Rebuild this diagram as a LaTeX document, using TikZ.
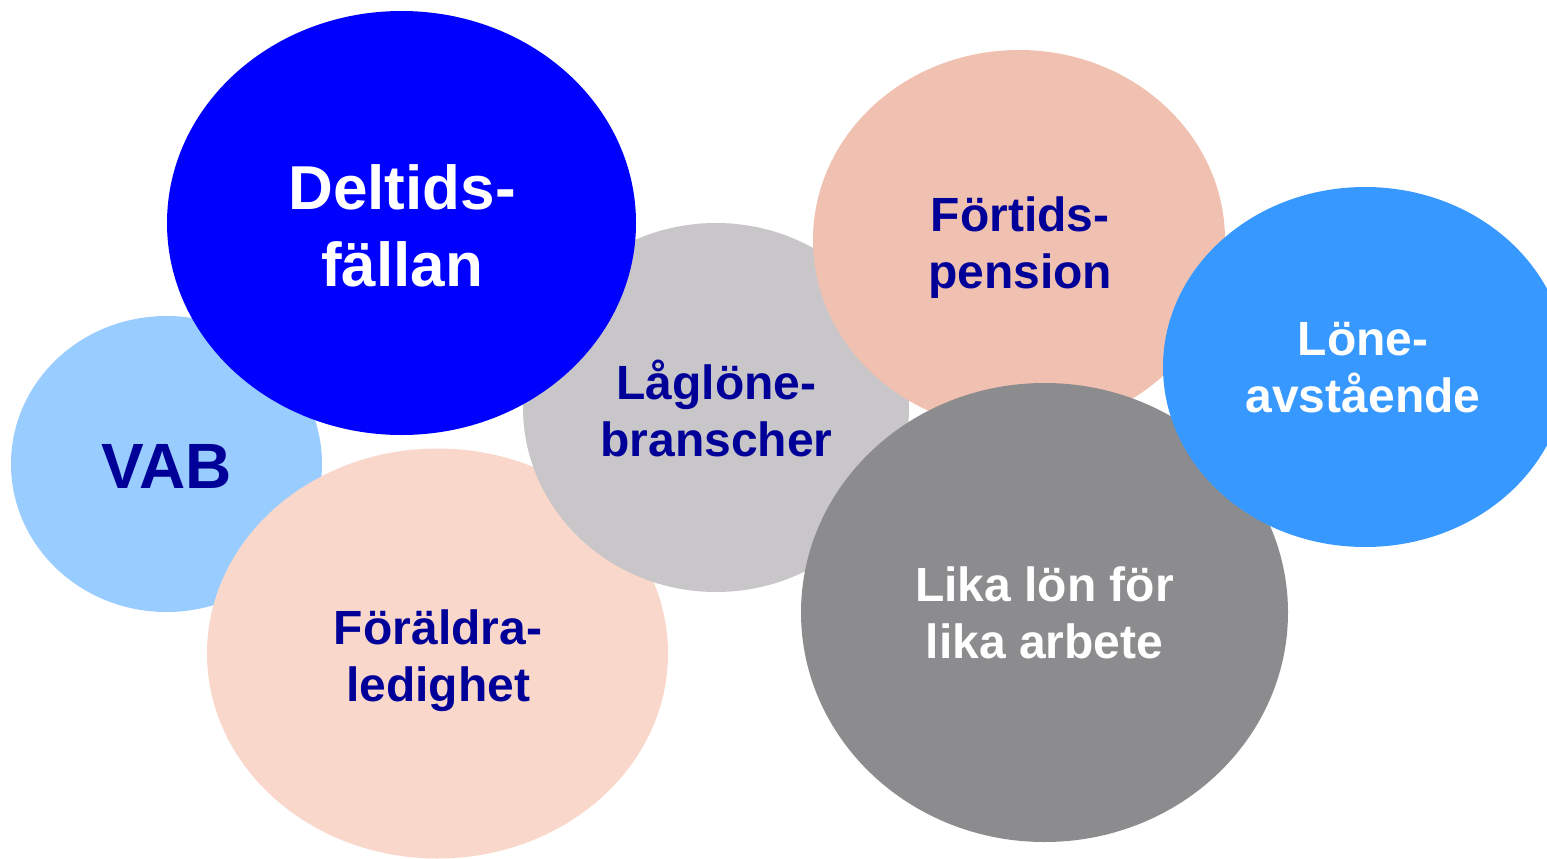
\documentclass[tikz,border=0pt]{standalone}
\usepackage{fontspec}
\setmainfont{Liberation Sans}
\usetikzlibrary{shapes.geometric}
\definecolor{vabblue}{HTML}{99CCFF}
\definecolor{pinklight}{HTML}{F9D8CB}
\definecolor{graylight}{HTML}{C8C6C8}
\definecolor{deepblue}{HTML}{0000FF}
\definecolor{salmon}{HTML}{F0C1B0}
\definecolor{graydark}{HTML}{8C8C8E}
\definecolor{midblue}{HTML}{3799FF}
\definecolor{navytext}{HTML}{000099}
\begin{document}
\begin{tikzpicture}[x=1pt,y=-1pt,
  bubble/.style={ellipse, inner sep=0pt, draw=none},
  lbl/.style={align=center, inner sep=0pt, font=\bfseries\fontsize{48}{57}\selectfont, text=navytext},
  lblwhite/.style={lbl, text=white},
  biglbl/.style={lbl, font=\bfseries\fontsize{62}{77}\selectfont}]
\clip (0,0) rectangle (1547,859);
\fill[white] (0,0) rectangle (1547,859);
% bubbles, back to front
\node[bubble, fill=vabblue, minimum width=311pt, minimum height=296pt] (vab) at (166.5,464) {};
\node[bubble, fill=pinklight, minimum width=461pt, minimum height=410pt] (foraldra) at (437.5,653.5) {};
\node[bubble, fill=graylight, minimum width=386pt, minimum height=369pt] (laglone) at (716,407.5) {};
\node[bubble, fill=deepblue, minimum width=469pt, minimum height=424pt] (deltid) at (401.5,223) {};
\node[bubble, fill=salmon, minimum width=412pt, minimum height=380pt] (fortid) at (1019,240) {};
\node[bubble, fill=graydark, minimum width=487pt, minimum height=459pt] (lika) at (1044.5,612.5) {};
\node[bubble, fill=midblue, minimum width=404pt, minimum height=360pt] (lone) at (1365,367) {};
% labels
\node[lbl, font=\bfseries\fontsize{64}{77}\selectfont] (vabt) at (166.5,466) {VAB};
\node[lbl] (foraldrat) at (438,661) {Föräldra-\\ledighet};
\node[lbl] (laglonet) at (716.5,408) {Låglöne-\\branscher};
\node[biglbl, text=white] (deltidt) at (402,225.5) {Deltids-\\fällan};
\node[lbl] (fortidt) at (1020,248) {Förtids-\\pension};
\node[lblwhite] (likat) at (1044.5,612.5) {Lika lön för\\lika arbete};
\node[lblwhite] (lonet) at (1363,368) {Löne-\\avstående};
\end{tikzpicture}
\end{document}
